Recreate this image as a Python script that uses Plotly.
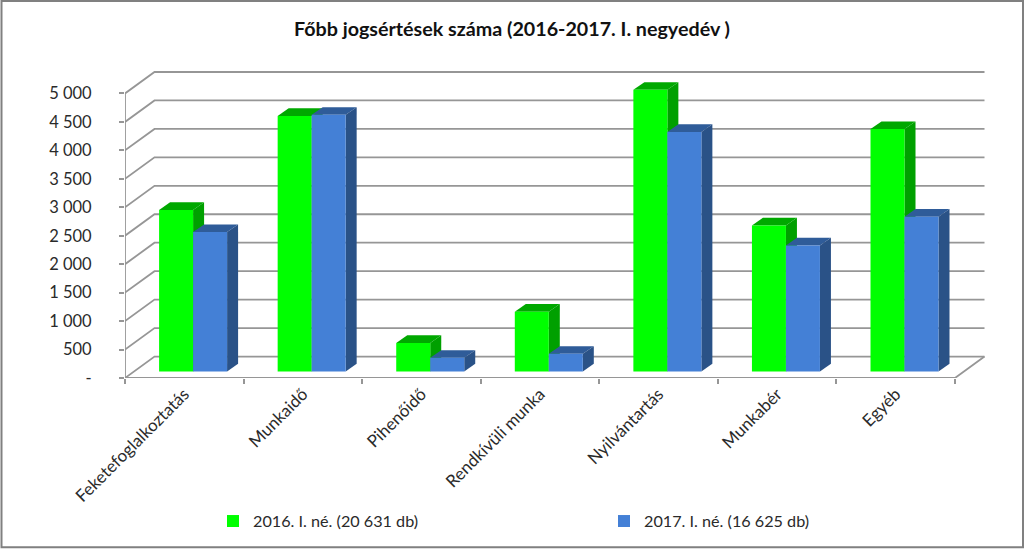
import plotly.graph_objects as go

categories = ["Feketefoglalkoztatás", "Munkaidő", "Pihenőidő", "Rendkívüli munka",
              "Nyilvántartás", "Munkabér", "Egyéb"]
values_2016 = [2840, 4490, 500, 1050, 4950, 2565, 4260]
values_2017 = [2450, 4510, 240, 310, 4210, 2215, 2720]
name_2016 = "2016. I. né. (20 631 db)"
name_2017 = "2017. I. né. (16 625 db)"
y_ticks = [0, 500, 1000, 1500, 2000, 2500, 3000, 3500, 4000, 4500, 5000]
y_labels = ["-", "500", "1 000", "1 500", "2 000", "2 500", "3 000", "3 500", "4 000", "4 500", "5 000"]

W, H = 1024, 549
L, R, T, B = 125, 986, 68, 378.5
PX_X = (955 - 125) / 7
PX_Y = 28.5 / 500
x_max = (R - L) / PX_X
y_max = (B - T) / PX_Y
GRID = "#969696"
FONT = "Lato, Carlito, sans-serif"

wall_dx, wall_dy = 29.5 / PX_X, 21.5 / PX_Y
bar_dx, bar_dy = 11 / PX_X, 7.7 / PX_Y
base_y = 6.5 / PX_Y
group_shift = 8.8 / PX_X
bar_w = 34 / PX_X

fig = go.Figure()

# walls and gridlines
for v in y_ticks:
    fig.add_trace(go.Scatter(
        x=[0, wall_dx, 7 + wall_dx], y=[v, v + wall_dy, v + wall_dy],
        mode="lines", line=dict(color=GRID, width=1.8), showlegend=False, hoverinfo="skip"))
fig.add_trace(go.Scatter(
    x=[0, 0, None, 0, 7, 7 + wall_dx], y=[0, y_ticks[-1], None, 0, 0, wall_dy],
    mode="lines", line=dict(color=GRID, width=1.8), showlegend=False, hoverinfo="skip"))


def depth_faces(left, value, top_color, side_color):
    right = left + bar_w
    low, high = base_y, base_y + value
    fig.add_trace(go.Scatter(
        x=[left, left + bar_dx, right + bar_dx, right, left],
        y=[high, high + bar_dy, high + bar_dy, high, high],
        mode="lines", fill="toself", fillcolor=top_color, line=dict(width=0),
        showlegend=False, hoverinfo="skip"))
    fig.add_trace(go.Scatter(
        x=[right, right + bar_dx, right + bar_dx, right, right],
        y=[high, high + bar_dy, low + bar_dy, low, high],
        mode="lines", fill="toself", fillcolor=side_color, line=dict(width=0),
        showlegend=False, hoverinfo="skip"))


for i in range(len(categories)):
    c = i + 0.5 + group_shift
    depth_faces(c - bar_w, values_2016[i], "#00a800", "#00a000")
    depth_faces(c, values_2017[i], "#2f5c99", "#2a5287")

bar_x = [i + 0.5 + group_shift for i in range(len(categories))]
fig.add_trace(go.Bar(x=bar_x, y=values_2016, base=base_y, name=name_2016, marker=dict(color="#00ff00", line=dict(width=0)),
                     xaxis="x2", yaxis="y2", hovertext=categories))
fig.add_trace(go.Bar(x=bar_x, y=values_2017, base=base_y, name=name_2017, marker=dict(color="#4480d6", line=dict(width=0)),
                     xaxis="x2", yaxis="y2", hovertext=categories))


def px(xp):
    return (xp - L) / (R - L)


def py(yp):
    return (B - yp) / (B - T)


fig.update_layout(
    width=W, height=H, autosize=False,
    margin=dict(l=L, r=W - R, t=T, b=H - B, pad=0),
    paper_bgcolor="white", plot_bgcolor="white",
    barmode="group", bargap=1 - 2 * bar_w, bargroupgap=0,
    font=dict(family=FONT, color="#222222", size=16),
    title=dict(text="<b>Főbb jogsértések száma (2016-2017. I. negyedév )</b>",
               x=512 / W, xanchor="center", y=1 - 29 / H, yanchor="middle",
               font=dict(family=FONT, size=19.7, color="#111111")),
    xaxis=dict(range=[0, x_max], tickmode="array", tickvals=[i + 0.5 for i in range(7)], ticktext=categories,
               tickangle=-45, ticks="", showgrid=False, zeroline=False, showline=False, automargin=False,
               tickfont=dict(size=17, color="#2a2a2a"), ticklabelstandoff=2,
               minor=dict(tickmode="array", tickvals=list(range(8)), ticks="outside", ticklen=5, tickwidth=1.5, tickcolor=GRID, showgrid=False)),
    yaxis=dict(range=[0, y_max], tickmode="array", tickvals=y_ticks, ticktext=y_labels,
               ticks="outside", ticklen=5, tickwidth=1.5, tickcolor=GRID, showgrid=False, zeroline=False,
               showline=False, automargin=False, tickfont=dict(size=16.5, color="#2a2a2a"), ticklabelstandoff=24),
    xaxis2=dict(range=[0, x_max], overlaying="x", visible=False),
    yaxis2=dict(range=[0, y_max], overlaying="y", visible=False),
    legend=dict(orientation="h", xref="container", yref="container", x=213 / W, xanchor="left",
                y=1 - 521.5 / H, yanchor="middle",
                entrywidth=346, entrywidthmode="pixels", itemwidth=30, traceorder="normal",
                bgcolor="rgba(0,0,0,0)", font=dict(size=16.2, color="#2a2a2a")),
    shapes=[dict(type="rect", xref="paper", yref="paper", x0=px(1.5), x1=px(1023), y0=py(1), y1=py(548),
                 line=dict(color="#808080", width=2), fillcolor="rgba(0,0,0,0)", layer="above")],
)

fig.write_html("out.html", config={"displayModeBar": False},
               post_script="document.body.style.margin='0';document.body.style.overflow='hidden';")
